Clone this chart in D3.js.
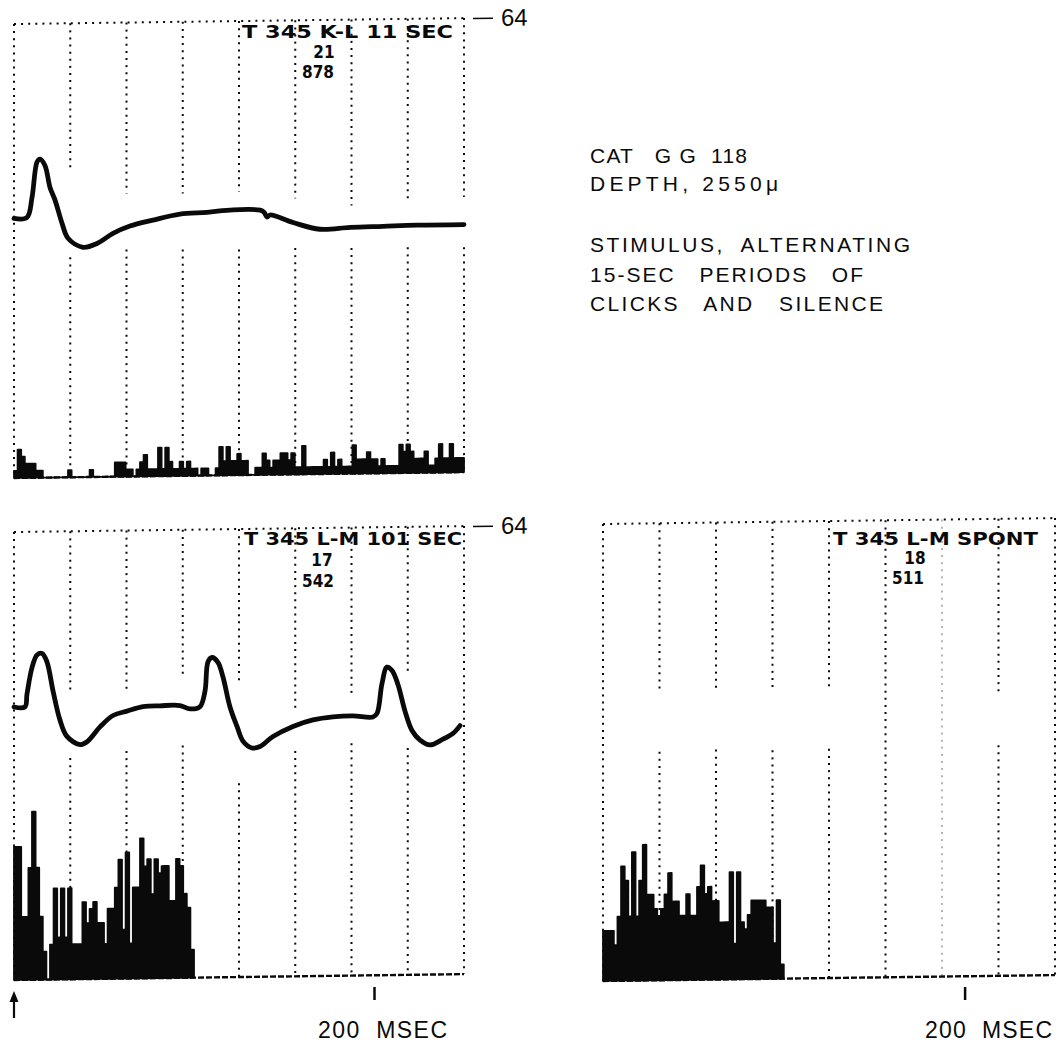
<!DOCTYPE html>
<html>
<head>
<meta charset="utf-8">
<script src="https://cdn.jsdelivr.net/npm/d3@7"></script>
<style>
  html, body { margin: 0; background: #fff; }
  svg { display: block; }
  text { white-space: pre; }
</style>
</head>
<body>
<svg id="fig" width="1063" height="1044"></svg>
<script>
// ---------------- data ----------------
const binMs = 2;            // histogram bin width
const sweepMs = 250;        // analysis sweep length
const gridMs = [0, 31.25, 62.5, 93.75, 125, 156.25, 187.5, 218.75, 250];
const scaleMarkMs = [200];
const countMax = 64;
const scaleLabel = "200  MSEC";

const titles = ["T 345 K-L 11 SEC", "T 345 L-M 101 SEC", "T 345 L-M SPONT"];
const sweepCounts = [21, 17, 18];
const spikeTotals = [878, 542, 511];

// spike counts per 2-ms bin
const histKL = [
  1,4,3,2,2,2,1,1, 0,0,0,0,0,0,0, 1,0,0,0,0,0,1, 0,0,0,0,0,0,
  2,2,2,1,1,0,1,2,3,1,1,1,
  4,1,4,2,1,1,2,1,2,1,
  1,0,1,1,0,0,1,4,2,4,
  2,2,3,2,2,0,0,1,1,3,
  2,1,2,2,3,3,2,3,1,1,
  4,1,1,1,1,1,2,1,3,1,
  2,1,1,1,4,2,2,2,3,2,
  2,1,2,1,1,1,1,4,3,4,
  3,2,2,2,3,1,1,2,4,2,
  2,4,2,2,2
];
const histLM = [
  19,19,9,9,16,24,16,9,4,0,
  5,13,6,13,6,13,5,5,5,11,
  8,10,11,8,8,5,10,10,13,17,
  7,18,5,13,13,20,16,17,12,17,
  15,16,16,11,11,17,16,12,10,4
];
const histSpont = [
  7,7,7,5,9,16,14,9,18,9,
  14,19,12,12,10,9,10,12,15,11,
  11,9,9,12,9,9,13,16,12,13,
  11,11,8,8,8,15,5,15,8,7,
  9,11,11,11,11,10,10,5,11,2
];

// averaged evoked potential, [time ms, level in count units]
const waveKL = [
  [0,36.6],[7.2,36.7],[10,39.5],[12.8,44.5],[14.4,44.9],[17.2,44.0],[20,40.9],
  [22.8,39.1],[26.7,35.8],[30,33.7],[38.3,32.4],[46.1,32.9],[55,34.3],[64.4,35.3],
  [77.2,36.1],[92.2,36.9],[107.2,37.1],[121.7,37.4],[136.7,37.3],[138.9,37.0],
  [140.6,36.3],[142.2,36.6],[155,35.5],[170,34.5],[186.7,34.7],[205,34.8],
  [223.9,34.9],[250,34.9]
];
const waveLM = [
  [0,39.0],[6.1,39.0],[7.2,40.8],[10,44.6],[12.8,46.4],[15.6,46.6],[18.3,45.4],
  [21.7,41.2],[25.6,37.0],[29.4,34.7],[36.7,33.5],[40.6,33.9],[47.8,36.0],[55,37.6],
  [62.8,38.2],[71.7,38.8],[81.1,38.9],[92.2,38.9],[97.8,38.4],[103.3,38.7],
  [106.1,40.9],[107.8,45.1],[110,45.7],[113.3,45.0],[116.1,42.9],[120,38.6],
  [123.9,35.8],[127.2,33.7],[132.2,32.7],[136.7,32.9],[143.9,34.3],[155,35.7],
  [166.1,36.6],[177.2,37.0],[188.3,37.1],[199.4,36.9],[201.7,37.4],[204.4,41.6],
  [207.2,44.0],[210,43.5],[213.3,41.5],[217.2,37.7],[221.1,34.9],[225.6,33.5],
  [231.1,32.8],[238.3,33.6],[243.9,34.4],[247.8,35.5]
];

// interruptions of each dotted grid line, [low, high] in count units
const gapsKL = [null,[31.0,43.0],[32.0,39.9],[31.9,39.8],[31.8,39.9],[31.9,38.9],[31.8,37.8],[31.8,38.0],[31.7,38.8]];
const gapsLM = [null,[31.6,41.2],[32.5,41.3],[33.2,43.4],[27.7,42.3],[32.2,38.2],[33.2,39.9],[32.4,43.2],null];
const gapsSpont = [null,[32.0,40.5],[32.2,40.2],[32.0,40.6],[32.1,40.3],null,null,[32.3,39.5],null];

const infoLines = ["CAT   G G  118", "DEPTH, 2550\u03BC", "STIMULUS,  ALTERNATING", "15-SEC   PERIODS   OF", "CLICKS   AND   SILENCE"];

// ---------------- layout ----------------
const skewDeg = -0.75;
const panels = [
  { left: 14, top: 24, width: 450, height: 454, hist: histKL, wave: waveKL, gaps: gapsKL,
    showMax: true, arrow: false,
    titlePos: { x0: 242, x1: 453, y: 38 }, sweepPos: { x: 324, y: 58 }, totalPos: { x: 318, y: 78 },
    scaleLabelPos: null },
  { left: 14, top: 532, width: 450, height: 448, hist: histLM, wave: waveLM, gaps: gapsLM,
    showMax: true, arrow: true,
    titlePos: { x0: 244, x1: 462, y: 545 }, sweepPos: { x: 322, y: 566 }, totalPos: { x: 318, y: 587 },
    scaleLabelPos: { x0: 318, x1: 447, y: 1038 } },
  { left: 603, top: 524, width: 452, height: 457, hist: histSpont, wave: null, gaps: gapsSpont,
    showMax: false, arrow: false, faintGrid: [6],
    titlePos: { x0: 833, x1: 1038, y: 545 }, sweepPos: { x: 915, y: 564 }, totalPos: { x: 908, y: 584 },
    scaleLabelPos: { x0: 925, x1: 1052, y: 1038 } }
];
panels.forEach((p, i) => { p.title = titles[i]; p.sweeps = sweepCounts[i]; p.total = spikeTotals[i]; });

const ink = "#0a0a0a";
const plotFont = "'DejaVu Sans Condensed', 'Liberation Sans Narrow', 'DejaVu Sans', sans-serif";
const letterFont = "'Liberation Sans', Arial, sans-serif";

const svg = d3.select("#fig");

panels.forEach(p => {
  const x = d3.scaleLinear().domain([0, sweepMs]).range([0, p.width]);
  const y = d3.scaleLinear().domain([0, countMax]).range([p.height, 0]);

  const g = svg.append("g")
    .attr("transform", `translate(${p.left},${p.top}) skewY(${skewDeg})`);

  // dotted frame: top edge
  g.append("line")
    .attr("x1", x(0)).attr("x2", x(sweepMs))
    .attr("y1", y(countMax)).attr("y2", y(countMax))
    .attr("stroke", ink).attr("stroke-width", 2).attr("stroke-dasharray", "2 5.1");

  // dotted vertical grid, broken where listed
  gridMs.forEach((t, i) => {
    const gap = p.gaps[i];
    const segs = gap ? [[gap[1], countMax], [0, gap[0]]] : [[0, countMax]];
    const faint = p.faintGrid && p.faintGrid.includes(i);
    segs.forEach(([lo, hi]) => {
      g.append("line")
        .attr("x1", x(t)).attr("x2", x(t))
        .attr("y1", y(hi)).attr("y2", y(lo))
        .attr("stroke", ink).attr("stroke-width", 2)
        .attr("stroke-dasharray", "2 5.1")
        .attr("opacity", faint ? 0.3 : 1);
    });
  });

  // histogram baseline, dashed where there is no data
  g.append("line")
    .attr("x1", x(0)).attr("x2", x(sweepMs))
    .attr("y1", y(0)).attr("y2", y(0))
    .attr("stroke", ink).attr("stroke-width", 2.4).attr("stroke-dasharray", "6 2");

  // histogram
  const pts = p.hist.map((c, i) => ({ t: i * binMs, c }));
  pts.push({ t: p.hist.length * binMs, c: p.hist[p.hist.length - 1] });
  const area = d3.area().curve(d3.curveStepAfter)
    .x(d => x(d.t)).y0(y(0)).y1(d => y(d.c));
  g.append("path").datum(pts).attr("d", area)
    .attr("fill", ink).attr("stroke", ink).attr("stroke-width", 1.8)
    .attr("stroke-linejoin", "round");

  // evoked potential trace
  if (p.wave) {
    const line = d3.line().curve(d3.curveCatmullRom.alpha(0.5))
      .x(d => x(d[0])).y(d => y(d[1]));
    g.append("path").datum(p.wave).attr("d", line)
      .attr("fill", "none").attr("stroke", ink).attr("stroke-width", 4.8)
      .attr("stroke-linecap", "round").attr("stroke-linejoin", "round");
  }

  // full-scale count marker
  if (p.showMax) {
    const ax = g.append("g")
      .attr("transform", `translate(${p.width + 9},0)`)
      .call(d3.axisRight(y).tickValues([countMax]).tickSize(20).tickPadding(8));
    ax.select(".domain").remove();
    ax.selectAll(".tick line").attr("stroke", ink).attr("stroke-width", 1.6);
    ax.selectAll(".tick text").attr("fill", ink)
      .style("font-family", letterFont).style("font-size", "24px");
  }

  // time scale mark
  if (p.scaleLabelPos) {
    const sx = svg.append("g")
      .attr("transform", `translate(${p.left},987)`)
      .call(d3.axisBottom(x).tickValues(scaleMarkMs).tickSize(13).tickFormat(() => ""));
    sx.select(".domain").remove();
    sx.selectAll(".tick line").attr("stroke", ink).attr("stroke-width", 2.5);

    const sl = p.scaleLabelPos;
    svg.append("text")
      .attr("x", sl.x0).attr("y", sl.y)
      .attr("textLength", sl.x1 - sl.x0).attr("lengthAdjust", "spacing")
      .attr("fill", ink).style("font-family", letterFont).style("font-size", "23px")
      .text(scaleLabel);
  }

  // stimulus onset arrow
  if (p.arrow) {
    const ax0 = p.left + x(0);
    svg.append("line")
      .attr("x1", ax0).attr("x2", ax0).attr("y1", 1018).attr("y2", 999)
      .attr("stroke", ink).attr("stroke-width", 2.2);
    svg.append("path")
      .attr("d", `M${ax0},991 L${ax0 - 4.5},1002 L${ax0 + 4.5},1002 Z`)
      .attr("fill", ink);
  }

  // plotter headings
  const tp = p.titlePos;
  svg.append("text")
    .attr("x", tp.x0).attr("y", tp.y)
    .attr("textLength", tp.x1 - tp.x0).attr("lengthAdjust", "spacingAndGlyphs")
    .attr("fill", ink).style("font-family", plotFont).style("font-weight", "bold")
    .style("font-size", "18px")
    .text(p.title);
  svg.append("text")
    .attr("x", p.sweepPos.x).attr("y", p.sweepPos.y).attr("text-anchor", "middle")
    .attr("fill", ink).style("font-family", plotFont).style("font-weight", "bold")
    .style("font-size", "17px")
    .text(p.sweeps);
  svg.append("text")
    .attr("x", p.totalPos.x).attr("y", p.totalPos.y).attr("text-anchor", "middle")
    .attr("fill", ink).style("font-family", plotFont).style("font-weight", "bold")
    .style("font-size", "17px")
    .text(p.total);
});

// experiment notes
const infoBase = [163, 191, 252, 282, 311];
const infoWidth = [157, 188, 320, 273, 293];
infoLines.forEach((s, i) => {
  svg.append("text")
    .attr("x", 590).attr("y", infoBase[i])
    .attr("textLength", infoWidth[i]).attr("lengthAdjust", "spacing")
    .attr("fill", ink).style("font-family", letterFont).style("font-size", "21px")
    .text(s);
});
</script>
</body>
</html>
